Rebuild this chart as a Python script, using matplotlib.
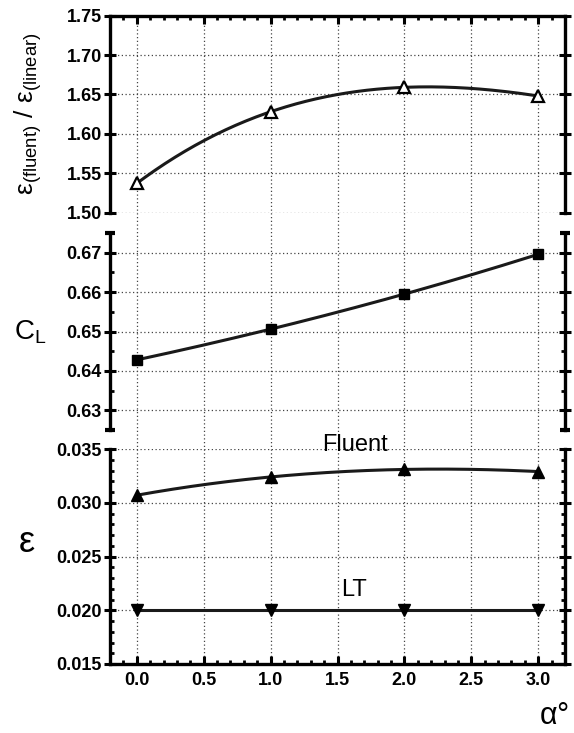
import numpy as np
import matplotlib
matplotlib.use('Agg')
import matplotlib.pyplot as plt
from matplotlib.ticker import MultipleLocator, FormatStrFormatter

plt.rcParams['font.family'] = ['Liberation Sans', 'DejaVu Sans']
plt.rcParams['mathtext.fontset'] = 'custom'
plt.rcParams['mathtext.rm'] = 'Liberation Sans'
plt.rcParams['mathtext.it'] = 'Liberation Sans:italic'

alpha = [0.0, 1.0, 2.0, 3.0]
eps_ratio = [1.537, 1.628, 1.659, 1.648]
cl = [0.6428, 0.6506, 0.6595, 0.6696]
eps_fluent = [0.0307, 0.0324, 0.0331, 0.0329]
eps_lt = [0.0200, 0.0200, 0.0200, 0.0200]

W, H = 574, 733
fig = plt.figure(figsize=(W / 100, H / 100), dpi=100)

left = 110 / W
width = (565 - 110) / W


def box(top_px, bot_px):
    return [left, 1 - bot_px / H, width, (bot_px - top_px) / H]


line_kw = dict(color='#1a1a1a', lw=2.2, zorder=3)
grid_kw = dict(color='#444444', linestyle=(0, (1, 2)), linewidth=0.9)

# background axes only for vertical grid lines running through the gaps
bg = fig.add_axes(box(15.7, 664))
bg.set_xlim(-0.2, 3.2)
bg.set_ylim(0, 1)
bg.xaxis.set_major_locator(MultipleLocator(0.5))
bg.grid(axis='x', **grid_kw)
bg.tick_params(left=False, bottom=False, labelleft=False, labelbottom=False)
for s in bg.spines.values():
    s.set_visible(False)
bg.patch.set_visible(False)

ax1 = fig.add_axes(box(15.7, 212.5))
ax2 = fig.add_axes(box(233, 430))
ax3 = fig.add_axes(box(449, 664))

xs = np.linspace(0, 3, 200)

# top panel
ax1.plot(xs, np.polyval(np.polyfit(alpha, eps_ratio, 3), xs), **line_kw)
ax1.plot(alpha, eps_ratio, ls='none', marker='^', ms=9, mfc='white',
         mec='black', mew=1.6, zorder=4)
ax1.set_ylim(1.50, 1.75)
ax1.yaxis.set_major_locator(MultipleLocator(0.05))
ax1.yaxis.set_major_formatter(FormatStrFormatter('%.2f'))

# middle panel
ax2.plot(xs, np.polyval(np.polyfit(alpha, cl, 3), xs), **line_kw)
ax2.plot(alpha, cl, ls='none', marker='s', ms=7, color='black', zorder=4)
ax2.set_ylim(0.625, 0.675)
ax2.yaxis.set_major_locator(MultipleLocator(0.01))
ax2.yaxis.set_minor_locator(MultipleLocator(0.005))
ax2.yaxis.set_major_formatter(FormatStrFormatter('%.2f'))

# bottom panel
ax3.plot(xs, np.polyval(np.polyfit(alpha, eps_fluent, 3), xs), **line_kw)
ax3.plot(alpha, eps_fluent, ls='none', marker='^', ms=9, color='black', zorder=4)
ax3.plot(alpha, eps_lt, **line_kw)
ax3.plot(alpha, eps_lt, ls='none', marker='v', ms=9, color='black', zorder=4)
ax3.set_ylim(0.015, 0.035)
ax3.yaxis.set_major_locator(MultipleLocator(0.005))
ax3.yaxis.set_minor_locator(MultipleLocator(0.001))
ax3.yaxis.set_major_formatter(FormatStrFormatter('%.3f'))
ax3.text(1.63, 0.0354, 'Fluent', fontsize=17, ha='center', va='center',
         clip_on=False)
ax3.text(1.62, 0.02185, 'LT', fontsize=17, ha='center', va='center')

for ax in (ax1, ax2, ax3):
    ax.set_xlim(-0.2, 3.2)
    ax.xaxis.set_major_locator(MultipleLocator(0.5))
    ax.xaxis.set_minor_locator(MultipleLocator(0.1))
    ax.xaxis.set_major_formatter(FormatStrFormatter('%.1f'))
    ax.patch.set_visible(False)
    ax.grid(axis='y', **grid_kw)
    for s in ax.spines.values():
        s.set_linewidth(2.4)
    ax.tick_params(axis='both', which='major', direction='in', length=6,
                   width=2.2, labelsize=13, pad=2)
    ax.tick_params(axis='both', which='minor', direction='in', length=3,
                   width=2.0)
    ax.tick_params(axis='y', which='both', left=True, right=True)
    ax.tick_params(axis='y', which='major', direction='inout', length=8)
    for lab in ax.get_yticklabels() + ax.get_xticklabels():
        lab.set_fontweight('bold')

ax1.spines['bottom'].set_visible(False)
ax1.tick_params(axis='x', which='both', bottom=False, top=True,
                labelbottom=False)
ax2.spines['bottom'].set_visible(False)
ax2.spines['top'].set_visible(False)
ax2.tick_params(axis='x', which='both', bottom=False, top=False,
                labelbottom=False)
ax3.spines['top'].set_visible(False)
ax3.tick_params(axis='x', which='both', bottom=True, top=False, pad=6)

# caps at the axis breaks of the middle panel
ax2.plot([0, 0, 1, 1], [0, 1, 0, 1], transform=ax2.transAxes, ls='none',
         marker='_', ms=7, mew=3, color='black', clip_on=False)

fig.text(28 / W, 1 - 114 / H,
         r'$\mathregular{\varepsilon_{(fluent)}\ /\ \varepsilon_{(linear)}}$',
         rotation=90, ha='center', va='center', fontsize=19)
fig.text(30 / W, 1 - 332 / H, r'$\mathregular{C_L}$', ha='center',
         va='center', fontsize=20)
fig.text(27 / W, 1 - 542 / H, r'$\mathregular{\varepsilon}$', ha='center',
         va='center', fontsize=26)
fig.text(554 / W, 1 - 716 / H, r'$\mathregular{\alpha\degree}$',
         ha='center', va='center', fontsize=22)

fig.savefig('out.png', dpi=100)
